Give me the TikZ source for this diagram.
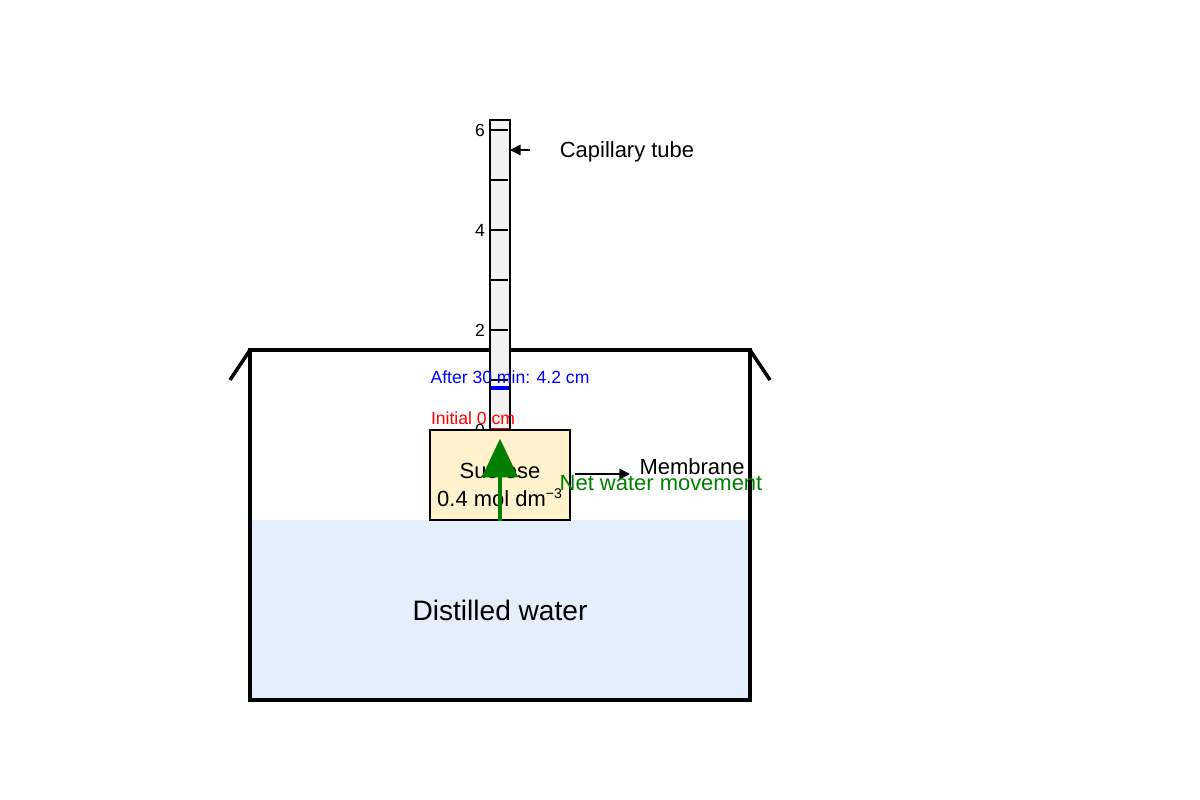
\documentclass[tikz,border=0pt]{standalone}
\usepackage{fontspec}
\setmainfont{Liberation Sans}
\usepackage{tikz}
\usetikzlibrary{arrows.meta,positioning,calc}

\definecolor{water}{HTML}{E3F0FB}
\definecolor{sucrose}{HTML}{FFF2CC}
\definecolor{tubefill}{HTML}{F2F2F2}
\definecolor{netgreen}{HTML}{007F00}

\begin{document}
\begin{tikzpicture}[
            x=0.02cm, y=-0.02cm,
            wall/.style={line width=2pt},
            tick/.style={line width=0.9pt},
            lbl/.style={font=\fontsize{12.5}{14}\selectfont},
            small/.style={font=\fontsize{10}{12}\selectfont},
            arrow/.style={-{Triangle[length=6pt,width=6pt]}, line width=0.8pt}
        ]
            \useasboundingbox (0,0) rectangle (1200,800);

            % Beaker and water
            \fill[water] (250,520) rectangle (750,700);
            \draw[wall] (250,350) -- (250,700) -- (750,700) -- (750,350) -- cycle;
            \draw[wall] (250,350) -- (230,380);
            \draw[wall] (750,350) -- (770,380);
            \node[font=\fontsize{16}{18}\selectfont] (water) at (500,610) {Distilled water};

            % Capillary tube with scale
            \draw[fill=tubefill, line width=1.6pt] (490,120) rectangle (510,430);
            \coordinate (tubetop) at (510,150);
            \foreach \n in {0,...,6}
                \draw[tick] (490,430-50*\n) -- (508,430-50*\n);
            \foreach \n in {0,2,4,6}
                \node[small, anchor=east, inner sep=1pt] (scale\n) at (487,430-50*\n) {\n};
            \draw[blue, line width=1.8pt] (491,388) -- (509,388);
            \draw[red, line width=1.8pt] (491,430) -- (509,430);
            \node[small, text=blue] (after) at (510,377) {After 30 min: 4.2 cm};
            \node[small, text=red] (initial) at (473,418) {Initial 0 cm};

            % Sucrose bag
            \node[draw, line width=1.6pt, fill=sucrose, minimum width=2.8cm, minimum height=1.8cm] (bag) at (500,475) {};
            \node[lbl, align=center, inner sep=0pt] (bagtext) at (500,485)
                  {Sucrose\\[2pt]0.4 mol dm\textsuperscript{\fontsize{8}{8}\selectfont −3}};
            \draw[netgreen, line width=2.8pt, -{Triangle[length=22pt,width=20pt]}] (bag.south) -- ([yshift=-0.2cm]bag.north);

            % Labels
            \node[lbl] (capillary) at (627,152) {Capillary tube};
            \draw[arrow] ([xshift=0.4cm]tubetop) -- (tubetop);
            \node[lbl] (membrane) at (692,467) {Membrane};
            \coordinate (memstart) at (575,474);
            \draw[arrow] (memstart) -- ++(55,0);
            \node[lbl, text=netgreen] (netmove) at (661,483) {Net water movement};
        \end{tikzpicture}
\end{document}
